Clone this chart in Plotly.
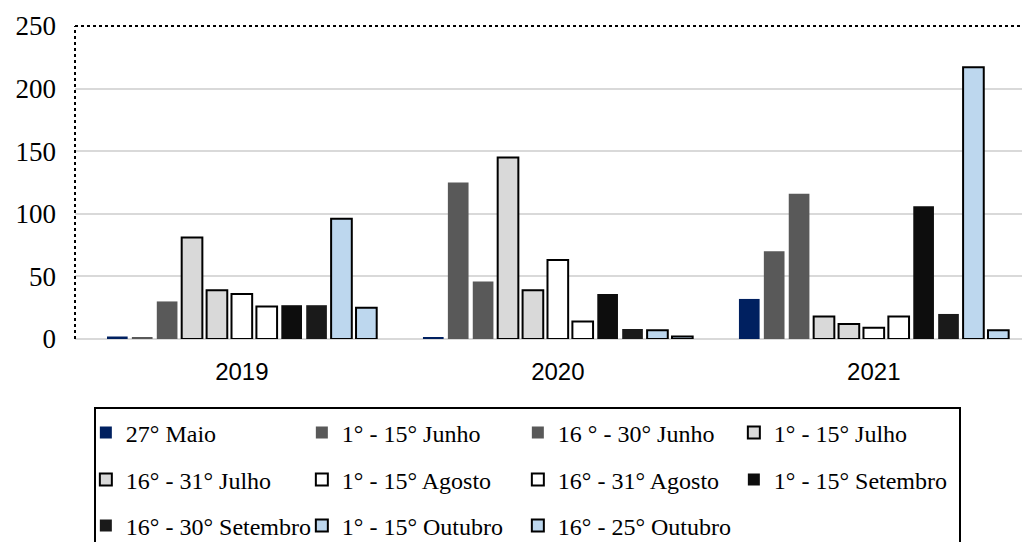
import plotly.graph_objects as go

years = ["2019", "2020", "2021"]

series_names = [
    "27° Maio", "1° - 15° Junho", "16 ° - 30° Junho", "1° - 15° Julho",
    "16° - 31° Julho", "1° - 15° Agosto", "16° - 31° Agosto", "1° - 15° Setembro",
    "16° - 30° Setembro", "1° - 15° Outubro", "16° - 25° Outubro",
]

maio_27 = [2, 1.5, 32]
junho_1_15 = [1.5, 125, 70]
junho_16_30 = [30, 46, 116]
julho_1_15 = [81, 145, 18]
julho_16_31 = [39, 39, 12]
agosto_1_15 = [36, 63, 9]
agosto_16_31 = [26, 14, 18]
setembro_1_15 = [27, 36, 106]
setembro_16_30 = [27, 8, 20]
outubro_1_15 = [96, 7, 217]
outubro_16_25 = [25, 2, 7]

values = [maio_27, junho_1_15, junho_16_30, julho_1_15, julho_16_31,
          agosto_1_15, agosto_16_31, setembro_1_15, setembro_16_30,
          outubro_1_15, outubro_16_25]

fills = ["#002060", "#595959", "#595959", "#D9D9D9", "#D9D9D9",
         "#FFFFFF", "#FFFFFF", "#0D0D0D", "#1A1A1A", "#BDD7EE", "#BDD7EE"]
outlined = [False, False, False, True, True, True, True, False, False, True, True]
legend_ids = ["legend"] * 4 + ["legend2"] * 4 + ["legend3"] * 3

fig = go.Figure()
for name, vals, color, edge, leg in zip(series_names, values, fills, outlined, legend_ids):
    fig.add_trace(go.Bar(
        x=years, y=vals, name=name, legend=leg,
        marker=dict(color=color,
                    line=dict(color="#000000" if edge else color, width=2 if edge else 0)),
    ))

serif = "Liberation Serif, Times New Roman, serif"
legend_common = dict(
    orientation="h", xref="container", yref="container",
    xanchor="left", yanchor="middle", x=0.084,
    font=dict(family=serif, size=24, color="#000000"),
    bgcolor="rgba(0,0,0,0)", borderwidth=0,
    entrywidth=171, traceorder="normal", itemclick=False,
)

fig.update_layout(
    width=1022, height=542,
    font=dict(family=serif, size=24, color="#000000"),
    margin=dict(l=75, r=0, t=26, b=203),
    paper_bgcolor="#FFFFFF", plot_bgcolor="#FFFFFF",
    barmode="group", bargap=0.133, bargroupgap=0.17,
    legend=dict(legend_common, y=1 - 433 / 542),
    legend2=dict(legend_common, y=1 - 480 / 542),
    legend3=dict(legend_common, y=1 - 526 / 542),
    xaxis=dict(
        type="category", range=[-0.528, 2.469], showgrid=False,
        showline=False, zeroline=False, ticks="",
        tickfont=dict(family="Liberation Sans, Arial, sans-serif", size=24, color="#000000"),
        ticklabelstandoff=16,
    ),
    yaxis=dict(
        range=[0, 250], dtick=50, showgrid=True, gridcolor="#D9D9D9", gridwidth=2,
        zeroline=True, zerolinecolor="#D9D9D9", zerolinewidth=2,
        showline=False, ticks="",
        tickfont=dict(family=serif, size=27, color="#000000"),
        ticklabelstandoff=18,
    ),
    shapes=[
        # dotted frame along the top and left of the plotting area
        dict(type="line", xref="paper", yref="paper", x0=0, x1=1.02, y0=1, y1=1,
             line=dict(color="#000000", width=2, dash="dot")),
        dict(type="line", xref="paper", yref="paper", x0=0, x1=0, y0=0, y1=1,
             line=dict(color="#000000", width=2, dash="dot")),
        # box around the legend rows
        dict(type="rect", xref="paper", yref="paper",
             x0=(95 - 75) / 947, x1=(960 - 75) / 947,
             y0=(339 - 408) / 313, y1=-0.8,
             line=dict(color="#000000", width=2), fillcolor="rgba(0,0,0,0)"),
    ],
)

fig.write_html("out.html")
